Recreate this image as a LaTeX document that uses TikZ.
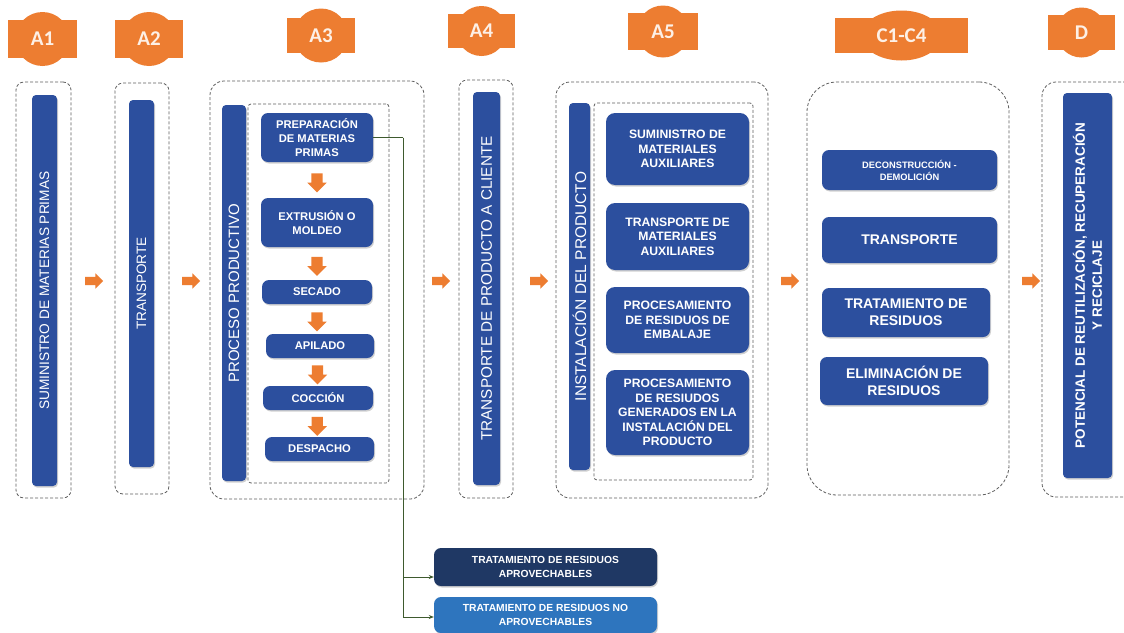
\documentclass[tikz,border=0pt]{standalone}
\usepackage{fontspec}
\setmainfont{Liberation Sans}
\newfontfamily\labfont{Carlito}
\usetikzlibrary{shapes.arrows,shadows,calc,arrows.meta}
\definecolor{lorange}{RGB}{237,125,49}
\definecolor{bblue}{RGB}{44,79,158}
\definecolor{navy}{RGB}{31,56,100}
\definecolor{lblue}{RGB}{46,117,190}
\definecolor{gline}{RGB}{62,90,46}
\definecolor{dgray}{RGB}{95,95,95}
\definecolor{cream}{RGB}{253,240,230}
\begin{document}
\begin{tikzpicture}[x=1pt,y=-1pt,
  cont/.style={draw=dgray, dash pattern=on 3pt off 2pt, line width=0.8pt, inner sep=0pt},
  shad/.style={drop shadow={shadow xshift=1pt, shadow yshift=-1.5pt, opacity=0.3, fill=black!60}},
  bar/.style={shad, fill=bblue, rounded corners=4pt, text=white, rotate=90, inner sep=0pt, align=center},
  box/.style={shad, fill=bblue, rounded corners=7pt, text=white, align=center, inner sep=0pt},
  lab/.style={fill=lorange, inner sep=0pt, text=cream, font=\labfont\bfseries\fontsize{21}{23}\selectfont},
  harrow/.style={single arrow, fill=lorange, minimum height=18pt, inner xsep=0pt, inner ysep=4pt, single arrow head extend=3.5pt, single arrow head indent=0pt},
  darrow/.style={single arrow, fill=lorange, shape border rotate=270, minimum height=19pt, inner sep=5.5pt, single arrow head extend=4pt, single arrow head indent=0pt},
  conn/.style={draw=gline, line width=1pt}
]
\clip (0,0) rectangle (1124,632);
\fill[white] (0,0) rectangle (1124,632);

% ---- labels ----
\fill[lorange] (42.5,39) circle (27);
\node[lab, minimum width=69, minimum height=38] (lA1) at (42.5,39) {A1};
\fill[lorange] (149,39) circle (27);
\node[lab, minimum width=68, minimum height=38] (lA2) at (149,39) {A2};
\fill[lorange] (321,35.5) circle (27);
\node[lab, minimum width=68, minimum height=35] (lA3) at (321,35.5) {A3};
\fill[lorange] (481.5,31) circle (25);
\node[lab, minimum width=67, minimum height=34] (lA4) at (481.5,31) {A4};
\fill[lorange] (663,31.5) circle (26);
\node[lab, minimum width=70, minimum height=37] (lA5) at (663,31.5) {A5};
\fill[lorange] (901.5,35.5) ellipse (40 and 25);
\node[lab, minimum width=133, minimum height=35] (lC) at (901.5,35.5) {C1-C4};
\fill[lorange] (1081.5,32.5) circle (25);
\node[lab, minimum width=67, minimum height=35] (lD) at (1081.5,32.5) {D};

% ---- containers ----
\node[cont, rounded corners=8pt, minimum width=55, minimum height=416] (cA1) at (43.5,290) {};
\node[cont, rounded corners=8pt, minimum width=54, minimum height=411] (cA2) at (142,288.5) {};
\node[cont, rounded corners=14pt, minimum width=214, minimum height=418] (cA3) at (317,290) {};
\node[cont, rounded corners=3pt, minimum width=141, minimum height=379] (iA3) at (318.5,293.5) {};
\node[cont, rounded corners=8pt, minimum width=54, minimum height=418] (cA4) at (486,289) {};
\node[cont, rounded corners=14pt, minimum width=212, minimum height=416] (cA5) at (662,290) {};
\node[cont, rounded corners=3pt, minimum width=159, minimum height=377] (iA5) at (673.5,291.5) {};
\node[cont, rounded corners=30pt, minimum width=202, minimum height=413] (cC) at (908,288.5) {};
\node[cont, rounded corners=14pt, minimum width=108, minimum height=415] (cD) at (1096,289.5) {};

% ---- vertical bars ----
\node[bar, minimum width=391, minimum height=25, font=\fontsize{13.7}{16}\selectfont] (bA1) at (44.5,290.5) {SUMINISTRO DE MATERIAS PRIMAS};
\node[bar, minimum width=367, minimum height=25, font=\fontsize{13.6}{16}\selectfont] (bA2) at (141.5,283.5) {TRANSPORTE};
\node[bar, minimum width=376, minimum height=24, font=\fontsize{15}{17}\selectfont] (bA3) at (234,293) {PROCESO PRODUCTIVO};
\node[bar, minimum width=393, minimum height=27, font=\fontsize{15.3}{17}\selectfont] (bA4) at (486.5,288.5) {TRANSPORTE DE PRODUCTO A CLIENTE};
\node[bar, minimum width=367, minimum height=21, font=\fontsize{15.5}{17}\selectfont] (bA5) at (579.5,286.5) {INSTALACIÓN DEL PRODUCTO};
\node[bar, minimum width=385, minimum height=49, font=\bfseries\fontsize{13.5}{17}\selectfont] (bD) at (1087.5,285.5) {POTENCIAL DE REUTILIZACIÓN, RECUPERACIÓN\\Y RECICLAJE};

% ---- A3 process boxes ----
\begin{scope}[every node/.append style={font=\bfseries\fontsize{11.2}{14}\selectfont}]
\node[box, minimum width=112, minimum height=49] (prep) at (317,137.5) {PREPARACIÓN\\DE MATERIAS\\PRIMAS};
\node[box, minimum width=112, minimum height=49] (extr) at (317,222.5) {EXTRUSIÓN O\\MOLDEO};
\node[box, minimum width=110, minimum height=24] (sec) at (317,292) {SECADO};
\node[box, minimum width=108, minimum height=24] (api) at (320,346) {APILADO};
\node[box, minimum width=110, minimum height=24] (coc) at (318,398) {COCCIÓN};
\node[box, minimum width=109, minimum height=24] (desp) at (319.5,449) {DESPACHO};
\end{scope}
\node[darrow] (d1) at ($(prep.south)!0.5!(extr.north)$) {};
\node[darrow] (d2) at ($(extr.south)!0.5!(sec.north)$) {};
\node[darrow] (d3) at ($(sec.south)!0.5!(api.north)-(1.5,0)$) {};
\node[darrow] (d4) at ($(api.south)!0.5!(coc.north)-(1.5,0)$) {};
\node[darrow] (d5) at ($(coc.south)!0.5!(desp.north)-(1.5,0)$) {};

% ---- A5 boxes ----
\begin{scope}[every node/.append style={font=\bfseries\fontsize{12.2}{14.5}\selectfont}]
\node[box, rounded corners=9pt, minimum width=143, minimum height=72] (s1) at (677.5,149) {SUMINISTRO DE\\MATERIALES\\AUXILIARES};
\node[box, rounded corners=9pt, minimum width=143, minimum height=67] (s2) at (677.5,236.5) {TRANSPORTE DE\\MATERIALES\\AUXILIARES};
\node[box, rounded corners=9pt, minimum width=143, minimum height=66] (s3) at (677.5,320) {PROCESAMIENTO\\DE RESIDUOS DE\\EMBALAJE};
\node[box, rounded corners=9pt, minimum width=143, minimum height=85] (s4) at (677.5,412.5) {PROCESAMIENTO\\DE RESIUDOS\\GENERADOS EN LA\\INSTALACIÓN DEL\\PRODUCTO};
\end{scope}

% ---- C1-C4 boxes ----
\node[box, minimum width=175, minimum height=40, font=\bfseries\fontsize{9.3}{12}\selectfont] (k1) at (909.5,170) {DECONSTRUCCIÓN -\\DEMOLICIÓN};
\node[box, minimum width=175, minimum height=46, font=\bfseries\fontsize{14}{17}\selectfont] (k2) at (909.5,240) {TRANSPORTE};
\node[box, minimum width=168, minimum height=49, font=\bfseries\fontsize{14}{17}\selectfont] (k3) at (906,312.5) {TRATAMIENTO DE\\RESIDUOS};
\node[box, minimum width=168, minimum height=48, font=\bfseries\fontsize{14}{17}\selectfont] (k4) at (904,381) {ELIMINACIÓN DE\\RESIDUOS};

% ---- horizontal arrows ----
\node[harrow] (h1) at (92,281) {};
\node[harrow] (h2) at (189,281) {};
\node[harrow] (h3) at (439,281) {};
\node[harrow] (h4) at (537,281) {};
\node[harrow] (h5) at (788,281) {};
\node[harrow] (h6) at (1029,281) {};

% ---- waste boxes ----
\node[box, fill=navy, minimum width=223, minimum height=38, font=\bfseries\fontsize{10.3}{14}\selectfont] (w1) at (545.5,567) {TRATAMIENTO DE RESIDUOS\\APROVECHABLES};
\node[box, fill=lblue, minimum width=223, minimum height=36, font=\bfseries\fontsize{10.3}{14}\selectfont] (w2) at (545.5,615) {TRATAMIENTO DE RESIDUOS NO\\APROVECHABLES};

% ---- connectors ----
\draw[conn] (prep.east) -- ++(30,0) coordinate (j);
\draw[conn, -{Stealth[length=5pt,width=4pt]}] (j) |- ([yshift=-10pt]w1.west);
\draw[conn, -{Stealth[length=5pt,width=4pt]}] (j) |- ([yshift=-2pt]w2.west);
\end{tikzpicture}
\end{document}
